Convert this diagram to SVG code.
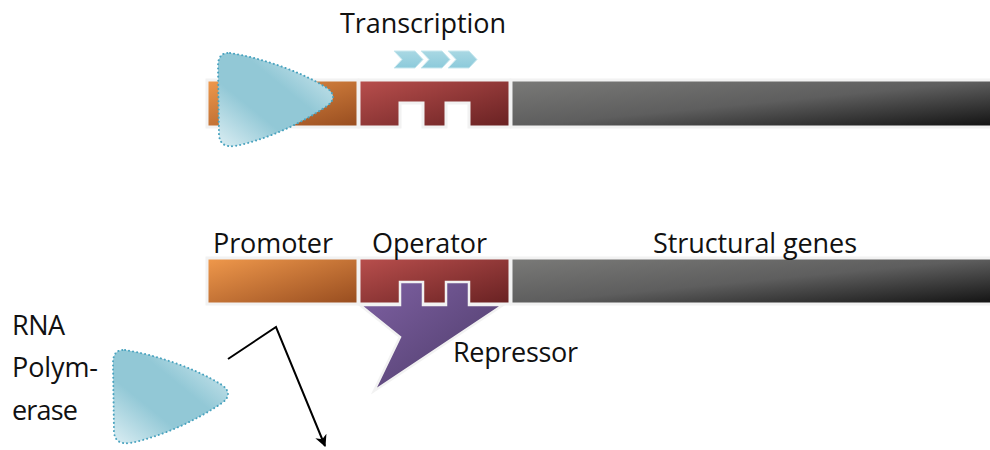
<svg xmlns="http://www.w3.org/2000/svg" width="990" height="450" viewBox="0 0 990 450">
  <defs>
    <linearGradient id="gProm" x1="0" y1="0" x2="1" y2="1">
      <stop offset="0" stop-color="#f0994c"/>
      <stop offset="1" stop-color="#974c1f"/>
    </linearGradient>
    <linearGradient id="gOp" x1="0" y1="0" x2="1" y2="1">
      <stop offset="0" stop-color="#b94f4d"/>
      <stop offset="1" stop-color="#682122"/>
    </linearGradient>
    <linearGradient id="gGene" x1="0" y1="0" x2="1" y2="1">
      <stop offset="0" stop-color="#7a7a78"/>
      <stop offset="0.5" stop-color="#5e5e5e"/>
      <stop offset="1" stop-color="#111111"/>
    </linearGradient>
    <linearGradient id="gRep" x1="0" y1="0" x2="1" y2="1">
      <stop offset="0" stop-color="#7f61a3"/>
      <stop offset="1" stop-color="#4a3966"/>
    </linearGradient>
    <linearGradient id="gPol" x1="0" y1="1" x2="1" y2="0">
      <stop offset="0" stop-color="#dceef3"/>
      <stop offset="0.35" stop-color="#92c8d6"/>
      <stop offset="0.6" stop-color="#92c8d6"/>
      <stop offset="1" stop-color="#dceef3"/>
    </linearGradient>
    <linearGradient id="gChev" x1="0" y1="0" x2="0" y2="1">
      <stop offset="0" stop-color="#a9d8e3"/>
      <stop offset="1" stop-color="#8ccadb"/>
    </linearGradient>
    <path id="polShape" d="M230,53 C262,58 302,72 327,88 Q339,97 327,106 C302,123 266,140 235,146 Q220,148 219,135 L218,66 Q218,52 230,53 Z"/>
    <path id="chev" d="M0,0 H21 L29,8.5 L21,17 H0 L8,8.5 Z"/>
    <marker id="arrow" viewBox="0 0 10 10" refX="9" refY="5" markerWidth="6" markerHeight="6" orient="auto" markerUnits="strokeWidth">
      <path d="M0,0 L10,5 L0,10 L3,5 Z" fill="#000"/>
    </marker>
  </defs>
  <style>
    .lbl { font-family: "Open Sans", "Liberation Sans", sans-serif; font-size: 27px; fill: #111; }
    .bar { stroke: #f2f2f2; stroke-width: 3; }
    .pol { fill: url(#gPol); stroke: #4aa3bf; stroke-width: 2; stroke-dasharray: 0.1 4; stroke-linecap: round; }
    .chev { fill: url(#gChev); stroke: #c9e8ef; stroke-width: 1; }
  </style>

  <rect width="990" height="450" fill="#fff"/>

  <!-- upper operon: polymerase bound, transcription running -->
  <g id="top-promoter">
    <rect class="bar" x="207" y="80" width="151" height="47" fill="url(#gProm)"/>
  </g>
  <g id="top-operator">
    <path class="bar" d="M359,80 H510 V127 H469 V103 H446 V127 H423 V103 H400 V127 H359 Z" fill="url(#gOp)"/>
  </g>
  <g id="top-genes">
    <rect class="bar" x="511" y="80" width="482" height="47" fill="url(#gGene)"/>
  </g>
  <g id="top-polymerase">
    <use href="#polShape" class="pol"/>
  </g>
  <g id="transcription">
    <use href="#chev" class="chev" x="394" y="51"/>
    <use href="#chev" class="chev" x="421" y="51"/>
    <use href="#chev" class="chev" x="448" y="51"/>
    <text class="lbl" x="423" y="33" text-anchor="middle" textLength="166">Transcription</text>
  </g>

  <!-- lower operon: repressor bound to operator -->
  <g id="promoter">
    <rect class="bar" x="207" y="258" width="151" height="46" fill="url(#gProm)"/>
    <text class="lbl" x="273" y="253" text-anchor="middle" textLength="120">Promoter</text>
  </g>
  <g id="operator">
    <rect class="bar" x="359" y="258" width="151" height="46" fill="url(#gOp)"/>
    <text class="lbl" x="429.5" y="253" text-anchor="middle" textLength="115">Operator</text>
  </g>
  <g id="structural-genes">
    <rect class="bar" x="511" y="258" width="482" height="46" fill="url(#gGene)"/>
    <text class="lbl" x="755" y="253" text-anchor="middle" textLength="204">Structural genes</text>
  </g>
  <g id="repressor">
    <path d="M360,305 H400 V282 H423 V305 H446 V282 H469 V305 H503 L374,391 L400,337 Z" fill="url(#gRep)" stroke="#f2f2f2" stroke-width="2.5"/>
    <text class="lbl" x="515.5" y="362" text-anchor="middle" textLength="125">Repressor</text>
  </g>
  <g id="rna-polymerase">
    <use href="#polShape" class="pol" transform="translate(-105,297)"/>
    <text class="lbl" x="12" y="335" textLength="53">RNA</text>
    <text class="lbl" x="12" y="377" textLength="86">Polym-</text>
    <text class="lbl" x="12" y="420" textLength="66">erase</text>
  </g>

  <g id="connectors">
    <polyline points="228,359 276,327 325,446" fill="none" stroke="#000" stroke-width="2" marker-end="url(#arrow)"/>
  </g>
</svg>
